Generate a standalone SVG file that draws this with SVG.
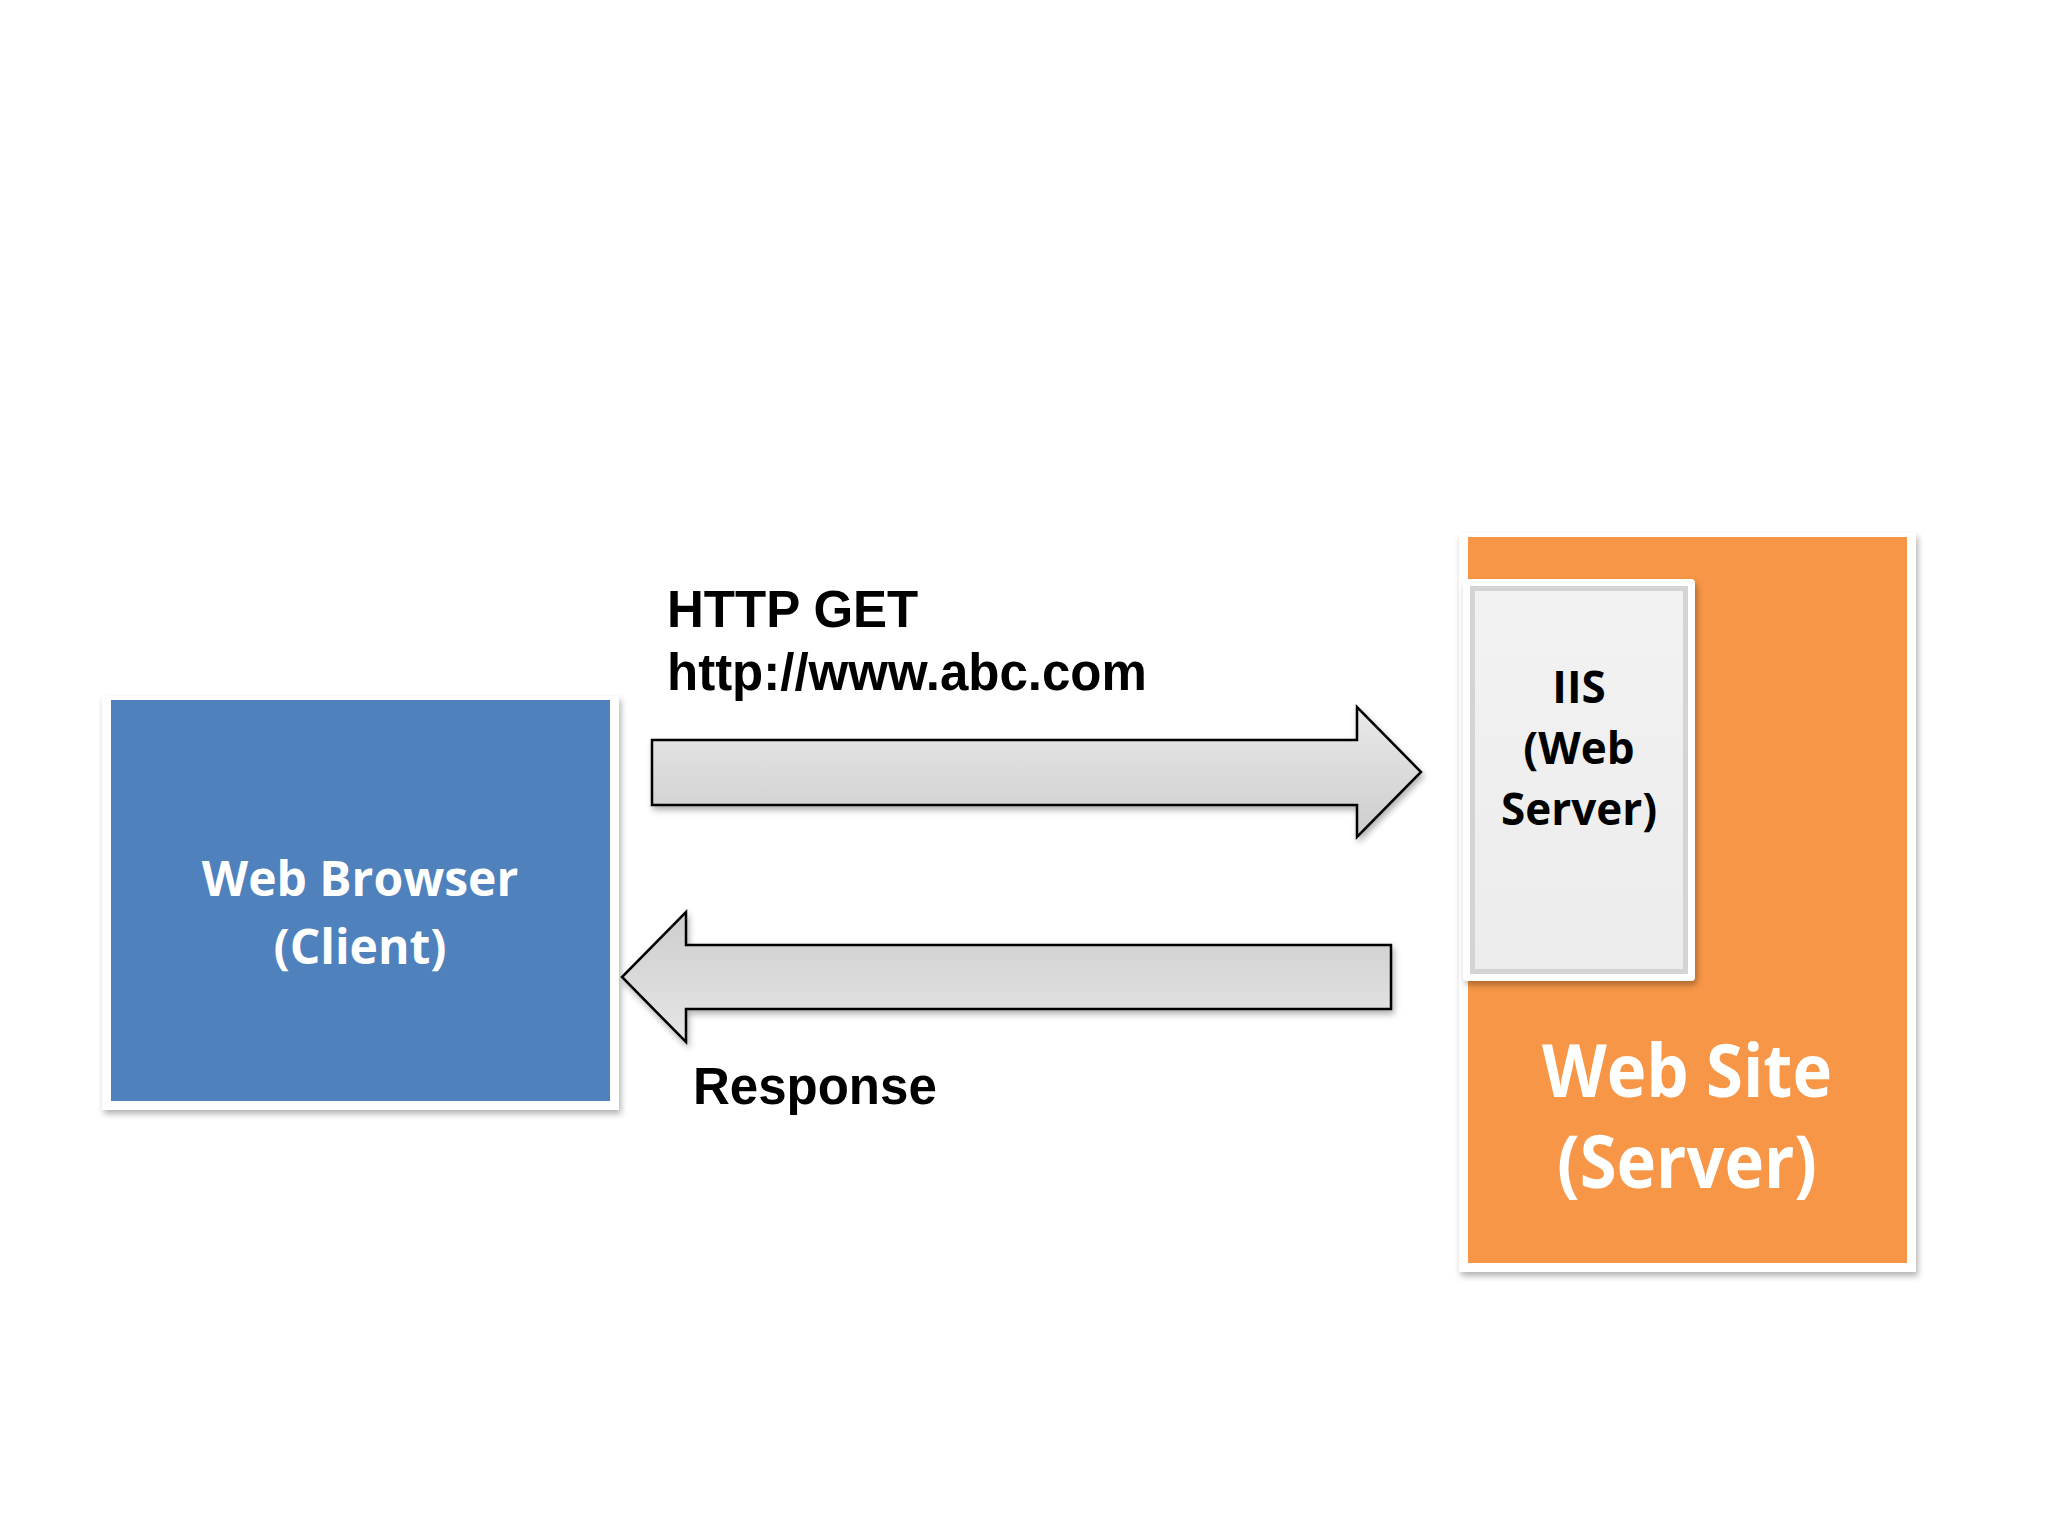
<svg xmlns="http://www.w3.org/2000/svg" width="2048" height="1536" viewBox="0 0 2048 1536">
  <defs>
    <filter id="shadow" x="-10%" y="-10%" width="120%" height="120%">
      <feDropShadow dx="2" dy="4" stdDeviation="3" flood-color="#000" flood-opacity="0.3"/>
    </filter>
    <linearGradient id="gRight" x1="0" y1="0" x2="0" y2="1">
      <stop offset="0" stop-color="#e9e9e9"/>
      <stop offset="1" stop-color="#cdcdcd"/>
    </linearGradient>
    <linearGradient id="gLeft" x1="0" y1="0" x2="0" y2="1">
      <stop offset="0" stop-color="#cdcdcd"/>
      <stop offset="1" stop-color="#e6e6e6"/>
    </linearGradient>
    <linearGradient id="gIIS" x1="0" y1="0" x2="0" y2="1">
      <stop offset="0" stop-color="#f2f2f2"/>
      <stop offset="1" stop-color="#ececec"/>
    </linearGradient>
  </defs>
  <style>
    .frame { fill: #ffffff; filter: url(#shadow); }
    .arrow { stroke: #000000; stroke-width: 2.5; stroke-linejoin: miter; filter: url(#shadow); }
    .label { font-family: "Liberation Sans", Arial, sans-serif; font-weight: bold; font-size: 51px; fill: #000000; }
    .node { font-family: "Open Sans", "Lato", sans-serif; font-weight: bold; text-anchor: middle; }
  </style>
  <rect width="2048" height="1536" fill="#ffffff"/>

  <g id="web-browser">
    <rect class="frame" x="102" y="696" width="517" height="414"/>
    <rect x="111" y="700" width="499" height="401" fill="#4f81bd"/>
    <text class="node" x="360" y="896" font-size="48" fill="#ffffff">Web Browser</text>
    <text class="node" x="360" y="964" font-size="48" fill="#ffffff">(Client)</text>
  </g>

  <g id="web-site">
    <rect class="frame" x="1459" y="533" width="457" height="739"/>
    <rect x="1468" y="537" width="439" height="726" fill="#f79646"/>
    <text class="node" x="1687" y="1097" font-size="74" fill="#ffffff" textLength="290" lengthAdjust="spacingAndGlyphs">Web Site</text>
    <text class="node" x="1687" y="1188" font-size="74" fill="#ffffff" textLength="260" lengthAdjust="spacingAndGlyphs">(Server)</text>
  </g>

  <g id="iis">
    <rect x="1463" y="579" width="232" height="402" rx="4" fill="#ffffff" filter="url(#shadow)"/>
    <rect x="1470" y="586" width="218" height="388" fill="#d4d4d4"/>
    <rect x="1475" y="591" width="208" height="378" fill="url(#gIIS)"/>
    <text class="node" x="1579" y="703" font-size="44" fill="#000000">IIS</text>
    <text class="node" x="1579" y="764" font-size="44" fill="#000000">(Web</text>
    <text class="node" x="1579" y="825" font-size="44" fill="#000000">Server)</text>
  </g>

  <g id="connectors">
    <path class="arrow" fill="url(#gRight)" d="M652,740 L1357,740 L1357,707 L1421,772 L1357,837 L1357,805 L652,805 Z"/>
    <path class="arrow" fill="url(#gLeft)" d="M1391,945 L686,945 L686,912 L622,977 L686,1042 L686,1009 L1391,1009 Z"/>
  </g>

  <g id="labels">
    <text class="label" x="667" y="627">HTTP GET</text>
    <text class="label" x="667" y="690">http://www.abc.com</text>
    <text class="label" x="693" y="1104">Response</text>
  </g>
</svg>
